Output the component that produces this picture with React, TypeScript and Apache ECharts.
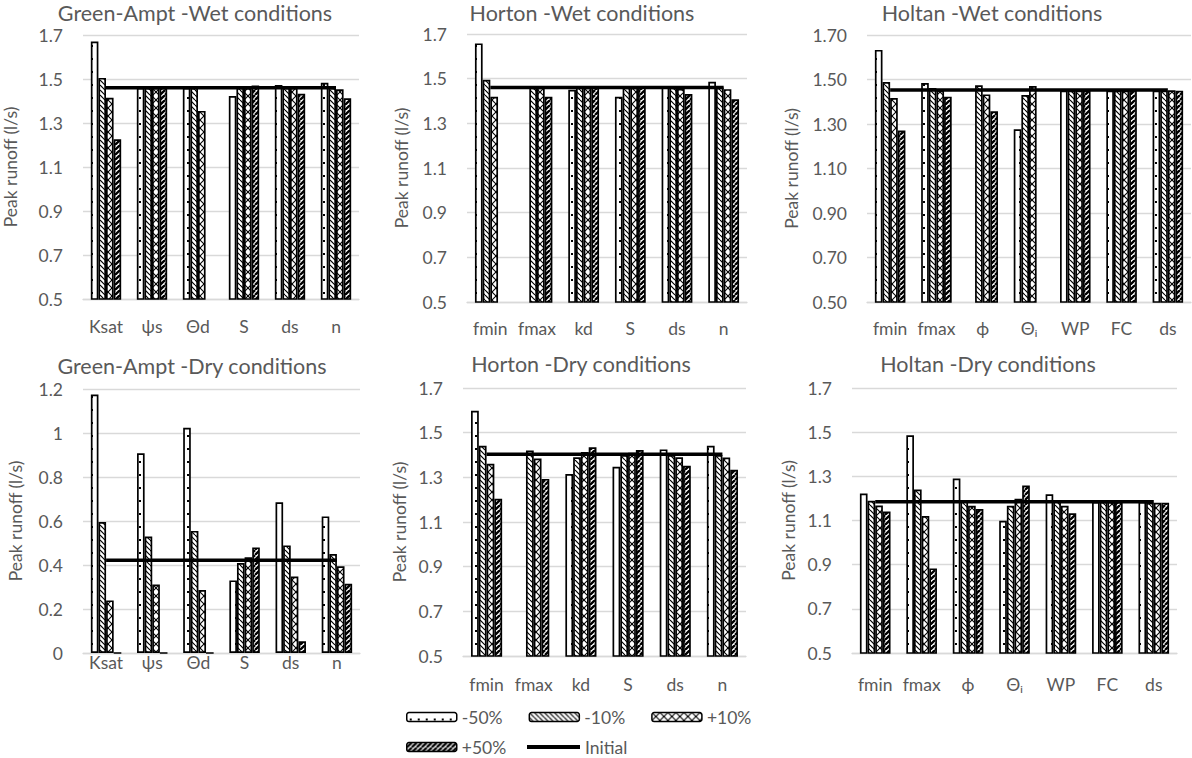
import React, { useEffect, useRef } from "react";
import * as echarts from "echarts";

// ---------- categories ----------
const gaCats = ["Ksat", "ψs", "Θd", "S", "ds", "n"];
const hortonCats = ["fmin", "fmax", "kd", "S", "ds", "n"];
const holtanCats = ["fmin", "fmax", "ϕ", "Θᵢ", "WP", "FC", "ds"];
const seriesNames = ["-50%", "-10%", "+10%", "+50%"];
const initialName = "Initial";

// ---------- Green-Ampt, wet ----------
const gaWetM50 = [1.67, 1.46, 1.46, 1.423, 1.473, 1.483];
const gaWetM10 = [1.505, 1.46, 1.46, 1.46, 1.46, 1.46];
const gaWetP10 = [1.415, 1.46, 1.355, 1.46, 1.46, 1.453];
const gaWetP50 = [1.226, 1.46, 0.45, 1.47, 1.433, 1.412];
const gaWetInit = 1.46;

// ---------- Horton, wet ----------
const hoWetM50 = [1.658, 0.45, 1.45, 1.419, 1.465, 1.486];
const hoWetM10 = [1.495, 1.46, 1.46, 1.46, 1.46, 1.46];
const hoWetP10 = [1.419, 1.46, 1.46, 1.46, 1.455, 1.453];
const hoWetP50 = [0.45, 1.419, 1.46, 1.465, 1.431, 1.408];
const hoWetInit = 1.46;

// ---------- Holtan, wet ----------
const htWetM50 = [1.633, 1.484, 0.45, 1.276, 1.45, 1.45, 1.45];
const htWetM10 = [1.489, 1.462, 1.474, 1.43, 1.45, 1.45, 1.45];
const htWetP10 = [1.417, 1.45, 1.433, 1.471, 1.45, 1.45, 1.452];
const htWetP50 = [1.271, 1.423, 1.357, 0.45, 1.45, 1.45, 1.45];
const htWetInit = 1.453;

// ---------- Green-Ampt, dry ----------
const gaDryM50 = [1.175, 0.908, 1.024, 0.33, 0.685, 0.621];
const gaDryM10 = [0.595, 0.529, 0.555, 0.409, 0.489, 0.45];
const gaDryP10 = [0.239, 0.311, 0.286, 0.435, 0.348, 0.394];
const gaDryP50 = [0, 0, 0, 0.48, 0.053, 0.315];
const gaDryInit = 0.422;

// ---------- Horton, dry ----------
const hoDryM50 = [1.598, 0.45, 1.315, 1.347, 1.425, 1.441];
const hoDryM10 = [1.441, 1.42, 1.39, 1.4, 1.4, 1.4];
const hoDryP10 = [1.361, 1.384, 1.413, 1.41, 1.39, 1.389];
const hoDryP50 = [1.204, 1.293, 1.435, 1.422, 1.352, 1.334];
const hoDryInit = 1.403;

// ---------- Holtan, dry ----------
const htDryM50 = [1.222, 1.486, 1.29, 1.099, 1.219, 1.185, 1.185];
const htDryM10 = [1.189, 1.24, 1.19, 1.167, 1.19, 1.185, 1.18];
const htDryP10 = [1.168, 1.12, 1.167, 1.198, 1.167, 1.185, 1.18];
const htDryP50 = [1.141, 0.883, 1.152, 1.258, 1.133, 1.185, 1.18];
const htDryInit = 1.185;

const FONT = "Lato, 'Liberation Sans', sans-serif";
const TXT = "#595959";
const GRIDC = "#d9d9d9";

function makePattern(kind: string) {
  const c = document.createElement("canvas");
  let w = 8;
  let h = 8;
  if (kind === "dots") { w = 8; h = 13; }
  if (kind === "back") { w = 5; h = 5; }
  if (kind === "cross") { w = 8; h = 8; }
  if (kind === "fwd") { w = 5; h = 5; }
  c.width = w;
  c.height = h;
  const ctx = c.getContext("2d")!;
  ctx.fillStyle = "#fff";
  ctx.fillRect(0, 0, w, h);
  ctx.fillStyle = "#000";
  ctx.strokeStyle = "#000";
  if (kind === "dots") {
    ctx.fillRect(3, 6, 2, 2);
  } else if (kind === "back") {
    ctx.lineWidth = 1.2;
    for (let k = -1; k <= 1; k++) {
      ctx.beginPath();
      ctx.moveTo(k * w, 0);
      ctx.lineTo(k * w + w, h);
      ctx.stroke();
    }
  } else if (kind === "cross") {
    ctx.lineWidth = 1.1;
    for (let k = -1; k <= 1; k++) {
      ctx.beginPath();
      ctx.moveTo(k * w, 0);
      ctx.lineTo(k * w + w, h);
      ctx.stroke();
      ctx.beginPath();
      ctx.moveTo(k * w, h);
      ctx.lineTo(k * w + w, 0);
      ctx.stroke();
    }
  } else if (kind === "fwd") {
    ctx.lineWidth = 2.3;
    for (let k = -1; k <= 1; k++) {
      ctx.beginPath();
      ctx.moveTo(k * w, h);
      ctx.lineTo(k * w + w, 0);
      ctx.stroke();
    }
  }
  return { image: c, repeat: "repeat", imageWidth: w, imageHeight: h } as any;
}

type Panel = {
  title: string;
  titleX: number;
  titleY: number;
  grid: { left: number; top: number; width: number; height: number };
  cats: string[];
  values: number[][];
  init: number;
  min: number;
  max: number;
  dec: number;
  nameGap: number;
  labelMargin: number;
};

const panels: Panel[] = [
  {
    title: "Green-Ampt -Wet conditions", titleX: 195, titleY: 2,
    grid: { left: 82, top: 35, width: 277, height: 264 },
    cats: gaCats, values: [gaWetM50, gaWetM10, gaWetP10, gaWetP50], init: gaWetInit,
    min: 0.5, max: 1.7, dec: 1, nameGap: 64, labelMargin: 18,
  },
  {
    title: "Horton -Wet conditions", titleX: 582, titleY: 2,
    grid: { left: 467, top: 34, width: 280, height: 268 },
    cats: hortonCats, values: [hoWetM50, hoWetM10, hoWetP10, hoWetP50], init: hoWetInit,
    min: 0.5, max: 1.7, dec: 1, nameGap: 57, labelMargin: 17,
  },
  {
    title: "Holtan -Wet conditions", titleX: 992, titleY: 2,
    grid: { left: 867, top: 35, width: 324, height: 267 },
    cats: holtanCats, values: [htWetM50, htWetM10, htWetP10, htWetP50], init: htWetInit,
    min: 0.5, max: 1.7, dec: 2, nameGap: 67, labelMargin: 17,
  },
  {
    title: "Green-Ampt -Dry conditions", titleX: 192, titleY: 355,
    grid: { left: 83, top: 389, width: 277, height: 264 },
    cats: gaCats, values: [gaDryM50, gaDryM10, gaDryP10, gaDryP50], init: gaDryInit,
    min: 0, max: 1.2, dec: -1, nameGap: 59, labelMargin: 0,
  },
  {
    title: "Horton -Dry conditions", titleX: 581, titleY: 353,
    grid: { left: 463, top: 388, width: 283, height: 268 },
    cats: hortonCats, values: [hoDryM50, hoDryM10, hoDryP10, hoDryP50], init: hoDryInit,
    min: 0.5, max: 1.7, dec: 1, nameGap: 55, labelMargin: 19,
  },
  {
    title: "Holtan -Dry conditions", titleX: 988, titleY: 353,
    grid: { left: 852, top: 388, width: 325, height: 265 },
    cats: holtanCats, values: [htDryM50, htDryM10, htDryP10, htDryP50], init: htDryInit,
    min: 0.5, max: 1.7, dec: 1, nameGap: 55, labelMargin: 22,
  },
];

export default function App() {
  const ref = useRef<HTMLDivElement>(null);
  useEffect(() => {
    if (!ref.current) return;
    const chart = echarts.init(ref.current, null, { renderer: "svg" });
    const patterns = [
      makePattern("dots"),
      makePattern("back"),
      makePattern("cross"),
      makePattern("fwd"),
    ];

    const title: any[] = [];
    const grid: any[] = [];
    const xAxis: any[] = [];
    const yAxis: any[] = [];
    const series: any[] = [];

    panels.forEach((p, i) => {
      title.push({
        text: p.title,
        left: p.titleX,
        top: p.titleY,
        textAlign: "center",
        padding: 0,
        textStyle: { fontFamily: FONT, fontSize: 21.5, lineHeight: 22, fontWeight: 400, color: TXT },
      });
      grid.push({ ...p.grid, containLabel: false });
      xAxis.push({
        type: "category",
        gridIndex: i,
        data: p.cats,
        axisLine: { show: true, lineStyle: { color: GRIDC, width: 1.3 } },
        axisTick: { show: false },
        axisLabel: {
          margin: p.labelMargin,
          color: TXT,
          fontFamily: FONT,
          fontSize: 17.5,
          interval: 0,
        },
      });
      yAxis.push({
        type: "value",
        gridIndex: i,
        min: p.min,
        max: p.max,
        interval: 0.2,
        name: "Peak runoff (l/s)",
        nameLocation: "middle",
        nameGap: p.nameGap,
        nameTextStyle: { color: TXT, fontFamily: FONT, fontSize: 17.5 },
        axisLine: { show: false },
        axisTick: { show: false },
        splitLine: { show: true, lineStyle: { color: GRIDC, width: 1.3 } },
        axisLabel: {
          margin: 20,
          color: TXT,
          fontFamily: FONT,
          fontSize: 17.5,
          formatter: (v: number) =>
            p.dec < 0 ? String(Math.round(v * 10) / 10) : v.toFixed(p.dec),
        },
      });
      seriesNames.forEach((name, k) => {
        series.push({
          name,
          type: "bar",
          xAxisIndex: i,
          yAxisIndex: i,
          data: p.values[k],
          barGap: "0%",
          barCategoryGap: "34%",
          clip: true,
          itemStyle: { color: patterns[k], borderColor: "#000", borderWidth: 1.7 },
          emphasis: { disabled: true },
        });
      });
      series.push({
        name: initialName,
        type: "line",
        xAxisIndex: i,
        yAxisIndex: i,
        data: p.cats.map(() => p.init),
        symbol: "none",
        z: 5,
        itemStyle: { color: "#000" },
        lineStyle: { color: "#000", width: 3.5 },
        emphasis: { disabled: true },
      });
    });

    const legendText = { color: TXT, fontFamily: FONT, fontSize: 17.5 };
    const option: any = {
      animation: false,
      backgroundColor: "#fff",
      title,
      grid,
      xAxis,
      yAxis,
      series,
      legend: [
        {
          data: ["-50%", "-10%", "+10%"],
          left: 406,
          top: 708,
          padding: 0,
          itemWidth: 50,
          itemHeight: 9,
          itemGap: 26,
          selectedMode: false,
          textStyle: legendText,
          itemStyle: { borderColor: "#000", borderWidth: 1.5 },
        },
        {
          data: ["+50%"],
          left: 406,
          top: 738,
          padding: 0,
          itemWidth: 50,
          itemHeight: 9,
          selectedMode: false,
          textStyle: legendText,
          itemStyle: { borderColor: "#000", borderWidth: 1.5 },
        },
        {
          data: [initialName],
          icon: "rect",
          left: 527,
          top: 738,
          padding: 0,
          itemWidth: 53,
          itemHeight: 4,
          selectedMode: false,
          textStyle: legendText,
          itemStyle: { color: "#000", borderWidth: 0 },
        },
      ],
    };
    chart.setOption(option);
    return () => chart.dispose();
  }, []);
  return (
    <div
      ref={ref}
      style={{ position: "absolute", left: 0, top: 0, width: 1192, height: 758, background: "#fff" }}
    />
  );
}
